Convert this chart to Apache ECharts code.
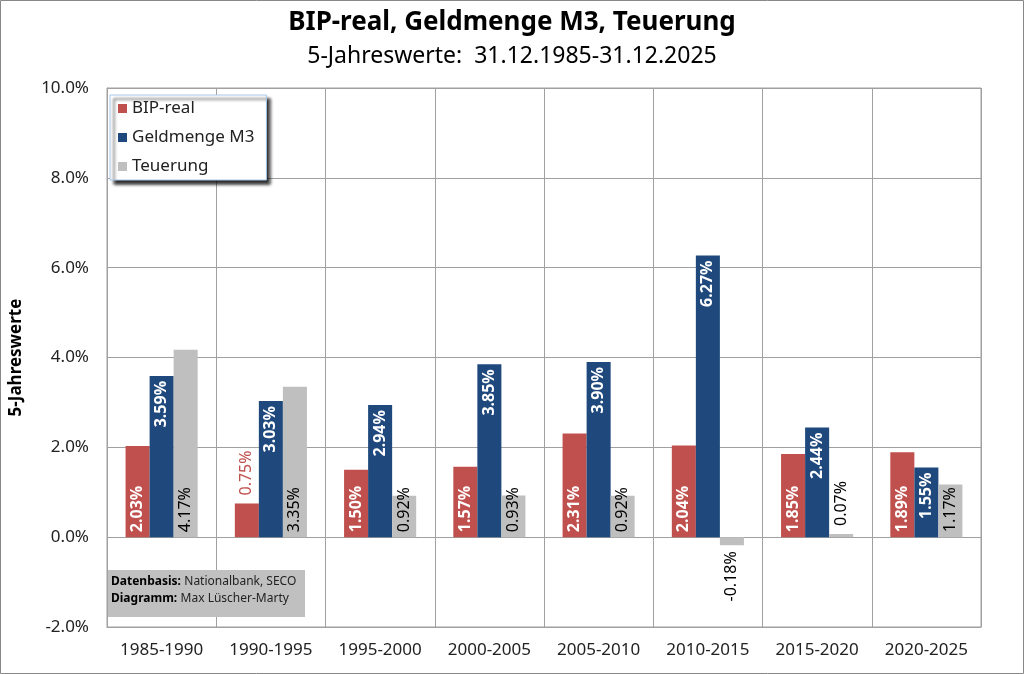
<!DOCTYPE html>
<html>
<head>
<meta charset="utf-8">
<script src="https://cdn.jsdelivr.net/npm/echarts@6/dist/echarts.min.js"></script>
<style>
  html, body { margin: 0; padding: 0; background: #fff; }
  #chart { width: 1024px; height: 674px; }
</style>
</head>
<body>
<div id="chart"></div>
<script>
// Daten
var categories = ['1985-1990', '1990-1995', '1995-2000', '2000-2005', '2005-2010', '2010-2015', '2015-2020', '2020-2025'];
var bipReal = [2.03, 0.75, 1.50, 1.57, 2.31, 2.04, 1.85, 1.89];
var geldmengeM3 = [3.59, 3.03, 2.94, 3.85, 3.90, 6.27, 2.44, 1.55];
var teuerung = [4.17, 3.35, 0.92, 0.93, 0.92, -0.18, 0.07, 1.17];
var yTicks = [-2, 0, 2, 4, 6, 8, 10];

var FONT = 'Noto Sans';
var RED = '#C0504D', BLUE = '#1F497D', GREY = '#BFBFBF';

// Beschriftung je Balken: klein -> oben ausserhalb, negativ -> unterhalb
function barData(values, outColor) {
  return values.map(function (v) {
    var item = { value: v };
    if (v < 0) {
      item.label = { position: 'bottom', align: 'right', distance: 6, color: outColor, fontWeight: 'normal' };
    } else if (v < 0.8) {
      item.label = { position: 'top', align: 'left', distance: 8, color: outColor, fontWeight: 'normal' };
    }
    return item;
  });
}

// atTop: Text endet oben im Balken (Geldmenge), sonst beginnt er unten
function makeSeries(name, values, color, labelColor, bold, outColor, atTop) {
  return {
    name: name,
    type: 'bar',
    barGap: '0%',
    barCategoryGap: '34%',
    itemStyle: { color: color },
    label: {
      show: true,
      position: atTop ? 'insideTop' : 'insideBottom',
      rotate: 90,
      align: atTop ? 'right' : 'left',
      verticalAlign: 'middle',
      distance: 5,
      fontFamily: FONT,
      fontSize: 16,
      fontWeight: bold ? 'bold' : 'normal',
      color: labelColor,
      formatter: function (p) { return p.value.toFixed(2) + '%'; }
    },
    data: barData(values, outColor)
  };
}

var myChart = echarts.init(document.getElementById('chart'));
var option = {
  backgroundColor: '#fff',
  animation: false,
  title: [{
    text: 'BIP-real, Geldmenge M3, Teuerung',
    left: 'center', top: 5,
    textStyle: { fontFamily: FONT, fontSize: 26, fontWeight: 'bold', color: '#000' }
  }, {
    text: '5-Jahreswerte:  31.12.1985-31.12.2025',
    left: 'center', top: 40,
    textStyle: { fontFamily: FONT, fontSize: 23, fontWeight: 'normal', color: '#000' }
  }],
  legend: {
    orient: 'vertical',
    left: 110, top: 95,
    padding: [5, 12, 5, 8],
    itemGap: 12,
    itemWidth: 9, itemHeight: 9,
    icon: 'rect',
    backgroundColor: '#fff',
    borderColor: '#A6C8EC',
    borderWidth: 1,
    shadowColor: 'rgba(0,0,0,0.85)',
    shadowBlur: 3,
    shadowOffsetX: 4,
    shadowOffsetY: 4,
    textStyle: { fontFamily: FONT, fontSize: 17, color: '#222' },
    data: ['BIP-real', 'Geldmenge M3', 'Teuerung']
  },
  grid: { left: 101, right: 43, top: 88, bottom: 47, show: true, borderColor: '#A0A0A0', borderWidth: 1 },
  xAxis: {
    type: 'category',
    data: categories,
    position: 'bottom',
    axisLine: { onZero: false, lineStyle: { color: '#A0A0A0' } },
    axisTick: { show: false },
    splitLine: { show: true, interval: 0, lineStyle: { color: '#A0A0A0', width: 1 } },
    axisLabel: { interval: 0, hideOverlap: false, fontFamily: FONT, fontSize: 17, color: '#222', margin: 15 }
  },
  yAxis: {
    type: 'value',
    min: yTicks[0], max: yTicks[yTicks.length - 1], interval: 2,
    name: '5-Jahreswerte',
    nameLocation: 'middle',
    nameGap: 82,
    nameTextStyle: { fontFamily: FONT, fontSize: 17, fontWeight: 'bold', color: '#000' },
    axisLine: { show: true, lineStyle: { color: '#A0A0A0' } },
    axisTick: { show: false },
    splitLine: { lineStyle: { color: '#A0A0A0', width: 1 } },
    axisLabel: {
      fontFamily: FONT, fontSize: 17, color: '#222', margin: 18,
      formatter: function (v) { return v.toFixed(1) + '%'; }
    }
  },
  graphic: [{
    type: 'rect',
    shape: { x: 0.5, y: 0.5, width: 1023, height: 673 },
    style: { fill: 'none', stroke: '#888', lineWidth: 1 },
    silent: true
  }, {
    type: 'rect',
    shape: { x: 108, y: 570, width: 197, height: 47 },
    style: { fill: '#C0C0C0' },
    z: 10
  }, {
    type: 'text',
    left: 111, top: 576,
    z: 11,
    style: {
      text: '{b|Datenbasis:} {n|Nationalbank, SECO}\n{b|Diagramm:} {n|Max Lüscher-Marty}',
      rich: {
        b: { fontFamily: FONT, fontSize: 12, fontWeight: 'bold', fill: '#000', lineHeight: 17 },
        n: { fontFamily: FONT, fontSize: 12, fill: '#222', lineHeight: 17 }
      }
    }
  }],
  series: [
    makeSeries('BIP-real', bipReal, RED, '#fff', true, RED, false),
    makeSeries('Geldmenge M3', geldmengeM3, BLUE, '#fff', true, BLUE, true),
    makeSeries('Teuerung', teuerung, GREY, '#000', false, '#000', false)
  ]
};
myChart.setOption(option);
window.addEventListener('resize', function () {
  myChart.resize();
});
</script>
</body>
</html>
